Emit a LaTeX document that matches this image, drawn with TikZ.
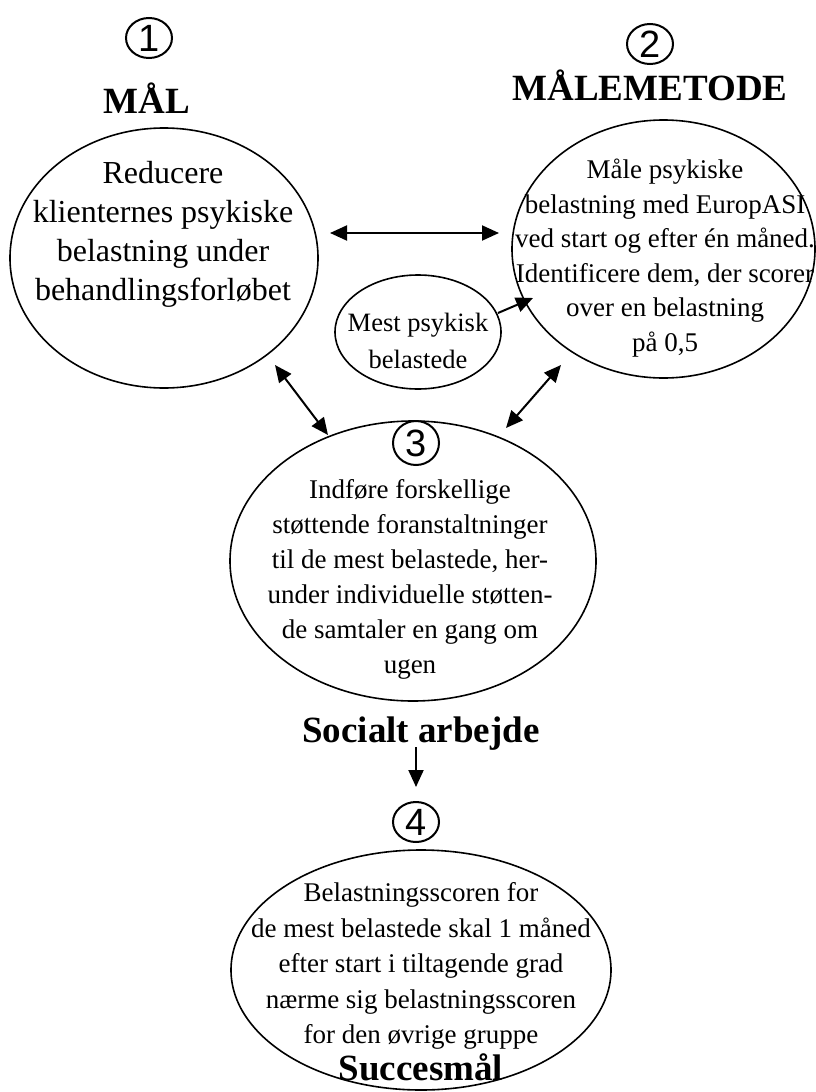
\documentclass[tikz,border=0pt]{standalone}
\usepackage{fontspec}
\setmainfont{Liberation Serif}
\newfontfamily\digitfont{Liberation Sans}
\usetikzlibrary{shapes.geometric,arrows.meta,calc}

\begin{document}
\begin{tikzpicture}[x=1pt,y=-1pt,
  >={Triangle[length=17pt,width=15pt]},
  bubble/.style={ellipse, draw, line width=1.6pt, inner sep=0pt},
  numring/.style={ellipse, draw, line width=2pt, inner sep=0pt,
    minimum width=46pt, minimum height=40pt,
    font=\digitfont\fontsize{38}{38}\selectfont},
  heading/.style={inner sep=0pt, anchor=base, font=\bfseries\fontsize{37}{37}\selectfont},
  bigtext/.style={align=center, inner sep=0pt, font=\fontsize{32}{39}\selectfont},
  bodytext/.style={align=center, inner sep=0pt, font=\fontsize{27}{34.5}\selectfont},
  link/.style={line width=2pt},
]
\useasboundingbox (0,0) rectangle (816,1092);

% step numbers
\node[numring] (n1) at (149,38) {1};
\node[numring] (n2) at (650,44) {2};
\node[numring, minimum height=44pt] (n3) at (416,443) {3};
\node[numring] (n4) at (416,822) {4};

% headings
\node[heading] (h1) at (147,113) {MÅL};
\node[heading] (h2) at (650,100) {MÅLEMETODE};
\node[heading] (soc) at (421,742) {Socialt arbejde};
\node[heading] (succ) at (421,1080) {Succesmål};

% ellipses
\node[bubble, minimum width=308pt, minimum height=260pt] (e1) at (164,258) {};
\node[bubble, minimum width=303pt, minimum height=258pt] (e2) at (663.5,249) {};
\node[bubble, minimum width=166pt, minimum height=114pt] (es) at (418,332) {};
\node[bubble, minimum width=366pt, minimum height=280pt] (e3) at (413,561) {};
\node[bubble, minimum width=380pt, minimum height=240pt] (e4) at (421,970) {};

% ellipse contents
\node[bigtext] (b1) at (163,234) {Reducere\\klienternes psykiske\\belastning under\\behandlingsforløbet};
\node[bodytext] (b2) at (665,258) {Måle psykiske\\belastning med EuropASI\\ved start og efter én måned.\\Identificere dem, der scorer\\over en belastning\\på 0,5};
\node[align=center, inner sep=0pt, font=\fontsize{26.5}{37}\selectfont] (bs) at (418,341) {Mest psykisk\\belastede};
\node[bodytext, font=\fontsize{27}{35}\selectfont] (b3) at (410,579.5) {Indføre forskellige\\støttende foranstaltninger\\til de mest belastede, her-\\under individuelle støtten-\\de samtaler en gang om\\ugen};
\node[bodytext, font=\fontsize{27}{35.5}\selectfont] (b4) at (421,966) {Belastningsscoren for\\de mest belastede skal 1 måned\\efter start i tiltagende grad\\nærme sig belastningsscoren\\for den øvrige gruppe};

% connectors
\draw[link, <->] ($(e1.center)+(166,-25)$) -- ($(e2.center)+(-164.5,-16)$);
\draw[link, <->] ($(e1.center)+(111,107)$) -- ($(e3.center)+(-85,-126)$);
\draw[link, <->] ($(e3.center)+(93,-133)$) -- ($(e2.center)+(-102.5,116)$);
\draw[link, ->] ($(es.center)+(80,-19)$) -- ($(e2.center)+(-130.5,49)$);
\draw[link, ->] ($(n4.center)+(0,-75)$) -- ($(n4.center)+(0,-35)$);
\end{tikzpicture}
\end{document}
